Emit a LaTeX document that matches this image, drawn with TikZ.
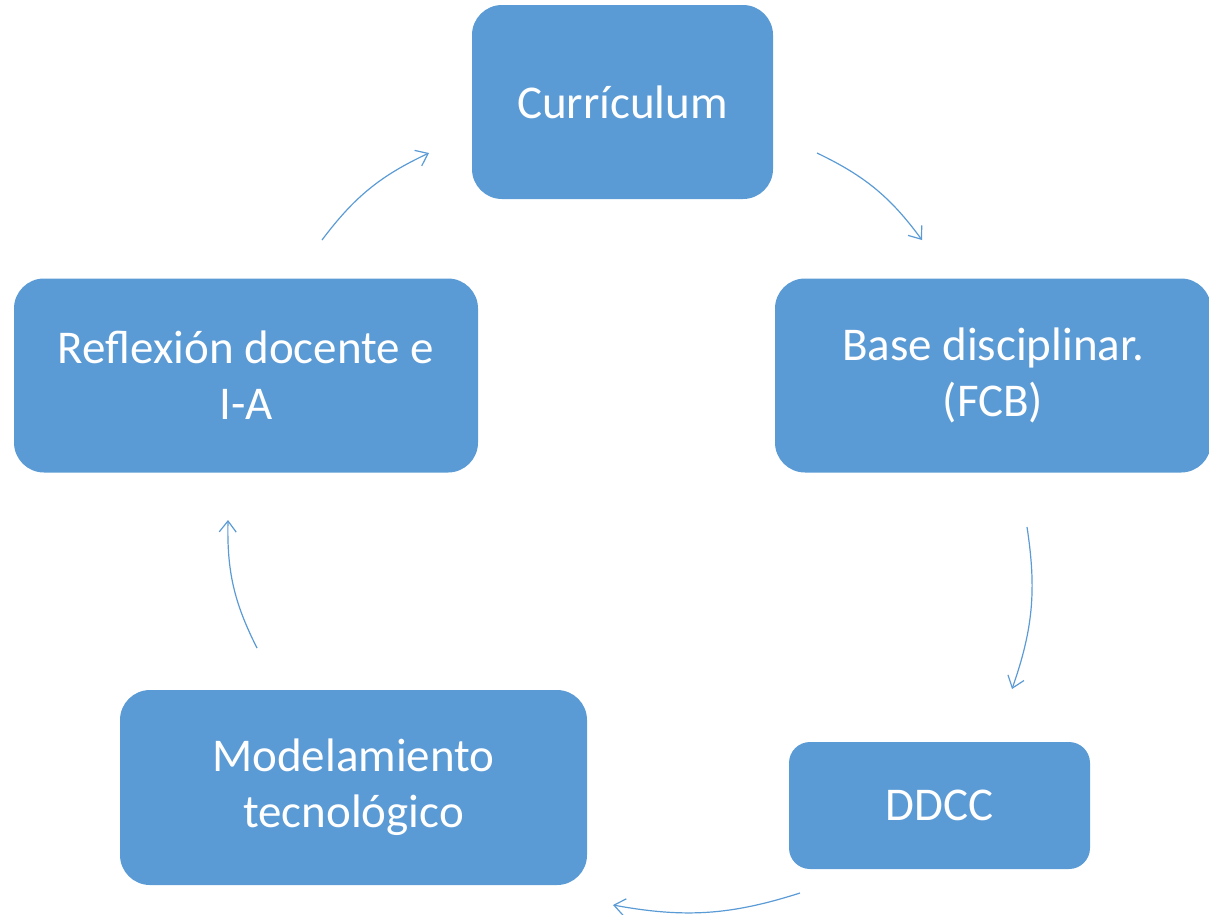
\documentclass[tikz,border=0pt]{standalone}
\usepackage{fontspec}
\setmainfont{Carlito}
\usetikzlibrary{arrows.meta}
\definecolor{boxblue}{HTML}{5B9BD5}
\tikzset{
  box/.style={rectangle, fill=boxblue, draw=none, text=white, align=center,
    font=\fontsize{47}{56}\selectfont, inner sep=0pt, rounded corners=#1},
  box/.default=30pt,
  cyc/.style={draw=boxblue, line width=1.2pt,
    -{Straight Barb[length=11pt,width=17pt,line width=1.2pt]}, bend left=#1},
  cyc/.default=14
}
\begin{document}
\begin{tikzpicture}[x=1pt,y=-1pt]
\useasboundingbox (0,0) rectangle (1209,914);
\node[box, minimum width=301pt, minimum height=194pt] (cur) at (622.5,102) {Currículum};
\node[box, minimum width=436pt, minimum height=194pt] (base) at (993,375.5) {Base disciplinar.\\(FCB)};
\node[box=21pt, minimum width=301pt, minimum height=127pt] (dd) at (939.5,805.5) {DDCC};
\node[box, minimum width=467pt, minimum height=195pt] (mod) at (353.5,787.5) {Modelamiento\\tecnológico};
\node[box, minimum width=464pt, minimum height=194pt] (ref) at (246,375.5) {Reflexión docente e\\I-A};
\coordinate (a1) at (817,153); \coordinate (b1) at (922,240);
\coordinate (a2) at (1027,527); \coordinate (b2) at (1012,689);
\coordinate (a3) at (800,893); \coordinate (b3) at (613,905);
\coordinate (a4) at (257,648); \coordinate (b4) at (228,520);
\coordinate (a5) at (322,240); \coordinate (b5) at (429,153);
\draw[cyc] (a1) to (b1);
\draw[cyc] (a2) to (b2);
\draw[cyc] (a3) to (b3);
\draw[cyc] (a4) to (b4);
\draw[cyc] (a5) to (b5);
\end{tikzpicture}
\end{document}
